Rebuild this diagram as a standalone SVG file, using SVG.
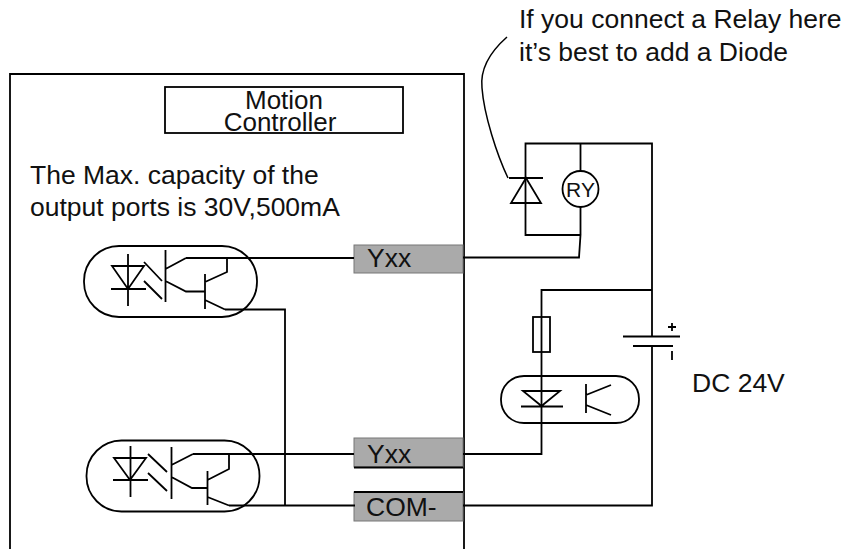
<svg xmlns="http://www.w3.org/2000/svg" width="845" height="549" viewBox="0 0 845 549">
<style>
.l{fill:none;stroke:#000;stroke-width:1.800}
.t{font-family:"Liberation Sans",Arial,sans-serif;font-size:26.500px;fill:#111}
.p{fill:#aaa;stroke:#777;stroke-width:1}
</style>
<rect width="845" height="549" fill="#fff"/>
<g id="controller"><path class="l" d="M10 549V74H464V549"/></g>
<g id="title"><rect class="l" x="165" y="87" width="238" height="46"/>
<text class="t" style="font-size:26px" text-anchor="middle" x="284" y="109">Motion</text><text class="t" style="font-size:26px" text-anchor="middle" x="280" y="131">Controller</text></g>
<g id="note"><text class="t" x="30" y="184">The Max. capacity of the</text><text class="t" x="30" y="216">output ports is 30V,500mA</text></g>
<g id="tip"><text class="t" x="519" y="28">If you connect a Relay here</text><text class="t" x="519" y="61">it’s best to add a Diode</text></g>
<g id="port1"><rect class="p" x="354" y="245" width="109" height="28"/><text class="t" x="367" y="267">Yxx</text></g>
<g id="port2"><rect class="p" x="354" y="438" width="109" height="29"/><path class="l" d="M354 467.500H463"/><text class="t" x="367" y="463">Yxx</text></g>
<g id="port3"><rect class="p" x="354" y="492" width="109" height="29"/><path class="l" d="M354 492H463"/><text class="t" x="366" y="516">COM-</text></g>
<g id="opto1"><rect class="l" x="84" y="246" width="173" height="71" rx="35"/>
<path class="l" d="M112 266H144L128 289ZM111 289H146M128 254V306M144 262L162 281M144 281L162 299M165.500 250V302M165.500 269L186 258M165.500 281L186 291.500H205M205 274V309M205 282L227 272V258M205 300L225 309.500"/></g>
<g id="opto2"><rect class="l" x="86.500" y="440.500" width="173" height="71" rx="35"/>
<path class="l" d="M114 458H146L130 480ZM113 480H148M130.500 446V497M148 454L167 472M148 473L167 491M171.500 447V499M171.500 465L193 454M171.500 477L192 488H207M207.500 471V505M207.500 480L229 469V454M207.500 497L229 505.500"/></g>
<g id="opto3"><rect class="l" x="501" y="376" width="138" height="47" rx="23"/>
<path class="l" d="M523 391H560L541.500 406ZM521 406.500H563M586 384V413M586 395L611 385M586 405L611 415"/></g>
<g id="diode"><path class="l" d="M511 203H541L526 178ZM509 178H543"/></g>
<g id="relay"><circle class="l" cx="580.500" cy="189" r="18"/><text x="580.500" y="197" text-anchor="middle" style="font-family:'Liberation Sans',Arial,sans-serif;font-size:21px;fill:#111">RY</text></g>
<g id="fuse"><rect class="l" x="533" y="317" width="17" height="35"/></g>
<g id="battery"><path class="l" d="M623 336.500H680M633 346H673M672 323V331M668 327H676M672 351V360"/><text class="t" x="692" y="392">DC 24V</text></g>
<g id="connectors"><path class="l" d="M186 258H354M225 309.500H285V505.500M193 454H354M229 505.500H355M463 257.500H579L580.500 235H525.500V143.500H652V336.500M580.500 143.500V171M580.500 207V235M652 346V505.500H463M463 454H541.500V290H652"/><path class="l" style="stroke-width:1.500" d="M507 37C490 52 480 70 482 88C484 115 497 155 508 178"/></g>
</svg>
